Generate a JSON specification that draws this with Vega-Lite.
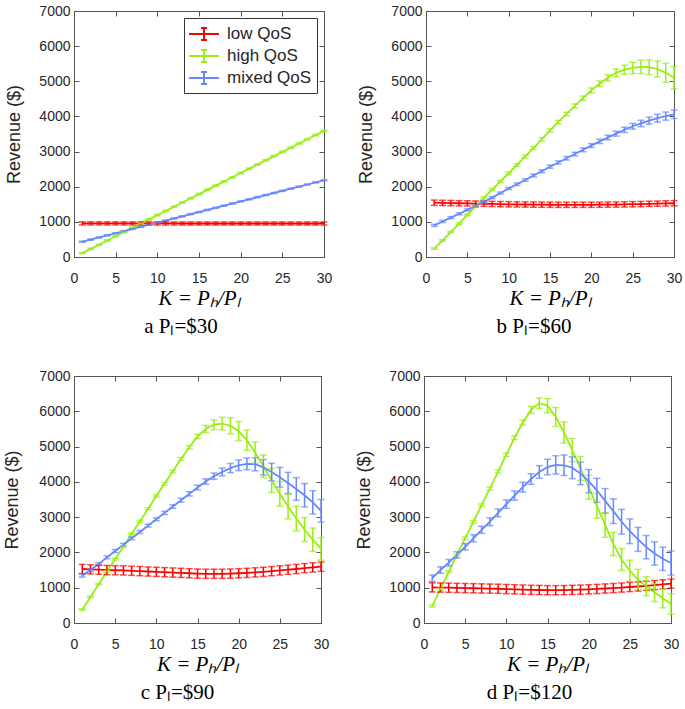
{
"$schema":"https://vega.github.io/schema/vega-lite/v6.json",
"padding":{"left":3,"top":3,"right":4,"bottom":4},
"background":"white",
"config":{
 "view":{"stroke":"#555555","strokeWidth":1},
 "scale":{"continuousPadding":0},
 "axis":{"domain":false,"grid":false,"labelFlush":false,"labelOverlap":false,"tickColor":"#555555","tickSize":-5,"tickWidth":1,"labelFont":"Liberation Sans","labelFontSize":14,"labelColor":"#262626","titleFont":"Liberation Sans","titleFontWeight":"normal","titleColor":"#262626"},
 "title":{"font":"Liberation Serif","fontSize":21,"fontWeight":"normal","color":"#000000"}
},
"datasets":{"rev":[
{"p":"a","s":"low QoS","K":1,"v":958,"e":45},{"p":"a","s":"low QoS","K":2,"v":957,"e":45},{"p":"a","s":"low QoS","K":3,"v":957,"e":45},{"p":"a","s":"low QoS","K":4,"v":956,"e":45},{"p":"a","s":"low QoS","K":5,"v":956,"e":45},{"p":"a","s":"low QoS","K":6,"v":955,"e":45},{"p":"a","s":"low QoS","K":7,"v":955,"e":45},{"p":"a","s":"low QoS","K":8,"v":955,"e":45},{"p":"a","s":"low QoS","K":9,"v":954,"e":45},{"p":"a","s":"low QoS","K":10,"v":954,"e":45},
{"p":"a","s":"low QoS","K":11,"v":954,"e":45},{"p":"a","s":"low QoS","K":12,"v":954,"e":45},{"p":"a","s":"low QoS","K":13,"v":953,"e":45},{"p":"a","s":"low QoS","K":14,"v":953,"e":45},{"p":"a","s":"low QoS","K":15,"v":953,"e":45},{"p":"a","s":"low QoS","K":16,"v":953,"e":45},{"p":"a","s":"low QoS","K":17,"v":953,"e":45},{"p":"a","s":"low QoS","K":18,"v":953,"e":45},{"p":"a","s":"low QoS","K":19,"v":953,"e":45},{"p":"a","s":"low QoS","K":20,"v":953,"e":45},
{"p":"a","s":"low QoS","K":21,"v":953,"e":45},{"p":"a","s":"low QoS","K":22,"v":953,"e":45},{"p":"a","s":"low QoS","K":23,"v":953,"e":45},{"p":"a","s":"low QoS","K":24,"v":953,"e":45},{"p":"a","s":"low QoS","K":25,"v":953,"e":45},{"p":"a","s":"low QoS","K":26,"v":953,"e":45},{"p":"a","s":"low QoS","K":27,"v":953,"e":45},{"p":"a","s":"low QoS","K":28,"v":953,"e":45},{"p":"a","s":"low QoS","K":29,"v":953,"e":45},{"p":"a","s":"low QoS","K":30,"v":953,"e":45},
{"p":"a","s":"high QoS","K":1,"v":110,"e":20},{"p":"a","s":"high QoS","K":2,"v":230,"e":20},{"p":"a","s":"high QoS","K":3,"v":350,"e":20},{"p":"a","s":"high QoS","K":4,"v":470,"e":20},{"p":"a","s":"high QoS","K":5,"v":590,"e":20},{"p":"a","s":"high QoS","K":6,"v":710,"e":20},{"p":"a","s":"high QoS","K":7,"v":830,"e":20},{"p":"a","s":"high QoS","K":8,"v":950,"e":20},{"p":"a","s":"high QoS","K":9,"v":1070,"e":20},{"p":"a","s":"high QoS","K":10,"v":1190,"e":20},
{"p":"a","s":"high QoS","K":11,"v":1310,"e":20},{"p":"a","s":"high QoS","K":12,"v":1430,"e":20},{"p":"a","s":"high QoS","K":13,"v":1550,"e":20},{"p":"a","s":"high QoS","K":14,"v":1670,"e":20},{"p":"a","s":"high QoS","K":15,"v":1790,"e":20},{"p":"a","s":"high QoS","K":16,"v":1910,"e":20},{"p":"a","s":"high QoS","K":17,"v":2030,"e":20},{"p":"a","s":"high QoS","K":18,"v":2150,"e":20},{"p":"a","s":"high QoS","K":19,"v":2270,"e":20},{"p":"a","s":"high QoS","K":20,"v":2390,"e":20},
{"p":"a","s":"high QoS","K":21,"v":2510,"e":20},{"p":"a","s":"high QoS","K":22,"v":2630,"e":20},{"p":"a","s":"high QoS","K":23,"v":2750,"e":20},{"p":"a","s":"high QoS","K":24,"v":2870,"e":20},{"p":"a","s":"high QoS","K":25,"v":2990,"e":20},{"p":"a","s":"high QoS","K":26,"v":3110,"e":20},{"p":"a","s":"high QoS","K":27,"v":3230,"e":20},{"p":"a","s":"high QoS","K":28,"v":3350,"e":20},{"p":"a","s":"high QoS","K":29,"v":3470,"e":20},{"p":"a","s":"high QoS","K":30,"v":3590,"e":20},
{"p":"a","s":"mixed QoS","K":1,"v":435,"e":15},{"p":"a","s":"mixed QoS","K":2,"v":495,"e":15},{"p":"a","s":"mixed QoS","K":3,"v":556,"e":15},{"p":"a","s":"mixed QoS","K":4,"v":616,"e":15},{"p":"a","s":"mixed QoS","K":5,"v":676,"e":15},{"p":"a","s":"mixed QoS","K":6,"v":737,"e":15},{"p":"a","s":"mixed QoS","K":7,"v":797,"e":15},{"p":"a","s":"mixed QoS","K":8,"v":857,"e":15},{"p":"a","s":"mixed QoS","K":9,"v":918,"e":15},{"p":"a","s":"mixed QoS","K":10,"v":978,"e":15},
{"p":"a","s":"mixed QoS","K":11,"v":1038,"e":15},{"p":"a","s":"mixed QoS","K":12,"v":1098,"e":15},{"p":"a","s":"mixed QoS","K":13,"v":1159,"e":15},{"p":"a","s":"mixed QoS","K":14,"v":1219,"e":15},{"p":"a","s":"mixed QoS","K":15,"v":1279,"e":15},{"p":"a","s":"mixed QoS","K":16,"v":1340,"e":15},{"p":"a","s":"mixed QoS","K":17,"v":1400,"e":15},{"p":"a","s":"mixed QoS","K":18,"v":1460,"e":15},{"p":"a","s":"mixed QoS","K":19,"v":1521,"e":15},{"p":"a","s":"mixed QoS","K":20,"v":1581,"e":15},
{"p":"a","s":"mixed QoS","K":21,"v":1641,"e":15},{"p":"a","s":"mixed QoS","K":22,"v":1702,"e":15},{"p":"a","s":"mixed QoS","K":23,"v":1762,"e":15},{"p":"a","s":"mixed QoS","K":24,"v":1822,"e":15},{"p":"a","s":"mixed QoS","K":25,"v":1883,"e":15},{"p":"a","s":"mixed QoS","K":26,"v":1943,"e":15},{"p":"a","s":"mixed QoS","K":27,"v":2003,"e":15},{"p":"a","s":"mixed QoS","K":28,"v":2063,"e":15},{"p":"a","s":"mixed QoS","K":29,"v":2124,"e":15},{"p":"a","s":"mixed QoS","K":30,"v":2184,"e":15},
{"p":"b","s":"low QoS","K":1,"v":1545,"e":75},{"p":"b","s":"low QoS","K":2,"v":1540,"e":75},{"p":"b","s":"low QoS","K":3,"v":1535,"e":75},{"p":"b","s":"low QoS","K":4,"v":1530,"e":75},{"p":"b","s":"low QoS","K":5,"v":1525,"e":75},{"p":"b","s":"low QoS","K":6,"v":1520,"e":75},{"p":"b","s":"low QoS","K":7,"v":1515,"e":75},{"p":"b","s":"low QoS","K":8,"v":1510,"e":75},{"p":"b","s":"low QoS","K":9,"v":1505,"e":75},{"p":"b","s":"low QoS","K":10,"v":1500,"e":75},
{"p":"b","s":"low QoS","K":11,"v":1497,"e":75},{"p":"b","s":"low QoS","K":12,"v":1494,"e":75},{"p":"b","s":"low QoS","K":13,"v":1491,"e":75},{"p":"b","s":"low QoS","K":14,"v":1489,"e":75},{"p":"b","s":"low QoS","K":15,"v":1487,"e":75},{"p":"b","s":"low QoS","K":16,"v":1486,"e":75},{"p":"b","s":"low QoS","K":17,"v":1485,"e":75},{"p":"b","s":"low QoS","K":18,"v":1485,"e":75},{"p":"b","s":"low QoS","K":19,"v":1485,"e":75},{"p":"b","s":"low QoS","K":20,"v":1486,"e":75},
{"p":"b","s":"low QoS","K":21,"v":1488,"e":75},{"p":"b","s":"low QoS","K":22,"v":1490,"e":75},{"p":"b","s":"low QoS","K":23,"v":1493,"e":75},{"p":"b","s":"low QoS","K":24,"v":1497,"e":75},{"p":"b","s":"low QoS","K":25,"v":1502,"e":75},{"p":"b","s":"low QoS","K":26,"v":1507,"e":75},{"p":"b","s":"low QoS","K":27,"v":1513,"e":75},{"p":"b","s":"low QoS","K":28,"v":1519,"e":75},{"p":"b","s":"low QoS","K":29,"v":1525,"e":75},{"p":"b","s":"low QoS","K":30,"v":1530,"e":75},
{"p":"b","s":"high QoS","K":1,"v":240,"e":20},{"p":"b","s":"high QoS","K":2,"v":470,"e":20},{"p":"b","s":"high QoS","K":3,"v":710,"e":20},{"p":"b","s":"high QoS","K":4,"v":950,"e":25},{"p":"b","s":"high QoS","K":5,"v":1200,"e":25},{"p":"b","s":"high QoS","K":6,"v":1440,"e":25},{"p":"b","s":"high QoS","K":7,"v":1680,"e":30},{"p":"b","s":"high QoS","K":8,"v":1920,"e":30},{"p":"b","s":"high QoS","K":9,"v":2150,"e":30},{"p":"b","s":"high QoS","K":10,"v":2380,"e":35},
{"p":"b","s":"high QoS","K":11,"v":2620,"e":35},{"p":"b","s":"high QoS","K":12,"v":2860,"e":40},{"p":"b","s":"high QoS","K":13,"v":3100,"e":40},{"p":"b","s":"high QoS","K":14,"v":3350,"e":45},{"p":"b","s":"high QoS","K":15,"v":3600,"e":45},{"p":"b","s":"high QoS","K":16,"v":3840,"e":50},{"p":"b","s":"high QoS","K":17,"v":4070,"e":50},{"p":"b","s":"high QoS","K":18,"v":4300,"e":55},{"p":"b","s":"high QoS","K":19,"v":4520,"e":60},{"p":"b","s":"high QoS","K":20,"v":4740,"e":70},
{"p":"b","s":"high QoS","K":21,"v":4930,"e":80},{"p":"b","s":"high QoS","K":22,"v":5100,"e":90},{"p":"b","s":"high QoS","K":23,"v":5240,"e":110},{"p":"b","s":"high QoS","K":24,"v":5330,"e":130},{"p":"b","s":"high QoS","K":25,"v":5380,"e":160},{"p":"b","s":"high QoS","K":26,"v":5410,"e":190},{"p":"b","s":"high QoS","K":27,"v":5400,"e":210},{"p":"b","s":"high QoS","K":28,"v":5350,"e":230},{"p":"b","s":"high QoS","K":29,"v":5240,"e":270},{"p":"b","s":"high QoS","K":30,"v":5100,"e":320},
{"p":"b","s":"mixed QoS","K":1,"v":900,"e":30},{"p":"b","s":"mixed QoS","K":2,"v":1010,"e":30},{"p":"b","s":"mixed QoS","K":3,"v":1120,"e":30},{"p":"b","s":"mixed QoS","K":4,"v":1230,"e":30},{"p":"b","s":"mixed QoS","K":5,"v":1340,"e":30},{"p":"b","s":"mixed QoS","K":6,"v":1450,"e":30},{"p":"b","s":"mixed QoS","K":7,"v":1570,"e":30},{"p":"b","s":"mixed QoS","K":8,"v":1690,"e":30},{"p":"b","s":"mixed QoS","K":9,"v":1820,"e":30},{"p":"b","s":"mixed QoS","K":10,"v":1950,"e":30},
{"p":"b","s":"mixed QoS","K":11,"v":2070,"e":35},{"p":"b","s":"mixed QoS","K":12,"v":2190,"e":35},{"p":"b","s":"mixed QoS","K":13,"v":2320,"e":40},{"p":"b","s":"mixed QoS","K":14,"v":2440,"e":40},{"p":"b","s":"mixed QoS","K":15,"v":2570,"e":45},{"p":"b","s":"mixed QoS","K":16,"v":2690,"e":45},{"p":"b","s":"mixed QoS","K":17,"v":2810,"e":50},{"p":"b","s":"mixed QoS","K":18,"v":2930,"e":50},{"p":"b","s":"mixed QoS","K":19,"v":3050,"e":55},{"p":"b","s":"mixed QoS","K":20,"v":3170,"e":55},
{"p":"b","s":"mixed QoS","K":21,"v":3290,"e":60},{"p":"b","s":"mixed QoS","K":22,"v":3400,"e":65},{"p":"b","s":"mixed QoS","K":23,"v":3510,"e":70},{"p":"b","s":"mixed QoS","K":24,"v":3620,"e":75},{"p":"b","s":"mixed QoS","K":25,"v":3720,"e":80},{"p":"b","s":"mixed QoS","K":26,"v":3800,"e":90},{"p":"b","s":"mixed QoS","K":27,"v":3880,"e":100},{"p":"b","s":"mixed QoS","K":28,"v":3950,"e":110},{"p":"b","s":"mixed QoS","K":29,"v":4010,"e":115},{"p":"b","s":"mixed QoS","K":30,"v":4060,"e":120},
{"p":"c","s":"low QoS","K":1,"v":1530,"e":130},{"p":"c","s":"low QoS","K":2,"v":1520,"e":130},{"p":"c","s":"low QoS","K":3,"v":1510,"e":130},{"p":"c","s":"low QoS","K":4,"v":1500,"e":130},{"p":"c","s":"low QoS","K":5,"v":1495,"e":130},{"p":"c","s":"low QoS","K":6,"v":1490,"e":130},{"p":"c","s":"low QoS","K":7,"v":1480,"e":130},{"p":"c","s":"low QoS","K":8,"v":1470,"e":130},{"p":"c","s":"low QoS","K":9,"v":1460,"e":130},{"p":"c","s":"low QoS","K":10,"v":1450,"e":130},
{"p":"c","s":"low QoS","K":11,"v":1440,"e":130},{"p":"c","s":"low QoS","K":12,"v":1430,"e":130},{"p":"c","s":"low QoS","K":13,"v":1420,"e":130},{"p":"c","s":"low QoS","K":14,"v":1410,"e":130},{"p":"c","s":"low QoS","K":15,"v":1400,"e":130},{"p":"c","s":"low QoS","K":16,"v":1395,"e":130},{"p":"c","s":"low QoS","K":17,"v":1395,"e":130},{"p":"c","s":"low QoS","K":18,"v":1395,"e":130},{"p":"c","s":"low QoS","K":19,"v":1400,"e":130},{"p":"c","s":"low QoS","K":20,"v":1410,"e":130},
{"p":"c","s":"low QoS","K":21,"v":1420,"e":130},{"p":"c","s":"low QoS","K":22,"v":1435,"e":130},{"p":"c","s":"low QoS","K":23,"v":1450,"e":130},{"p":"c","s":"low QoS","K":24,"v":1470,"e":130},{"p":"c","s":"low QoS","K":25,"v":1490,"e":130},{"p":"c","s":"low QoS","K":26,"v":1510,"e":130},{"p":"c","s":"low QoS","K":27,"v":1530,"e":130},{"p":"c","s":"low QoS","K":28,"v":1555,"e":130},{"p":"c","s":"low QoS","K":29,"v":1575,"e":130},{"p":"c","s":"low QoS","K":30,"v":1595,"e":130},
{"p":"c","s":"high QoS","K":1,"v":380,"e":20},{"p":"c","s":"high QoS","K":2,"v":740,"e":20},{"p":"c","s":"high QoS","K":3,"v":1100,"e":20},{"p":"c","s":"high QoS","K":4,"v":1460,"e":20},{"p":"c","s":"high QoS","K":5,"v":1810,"e":25},{"p":"c","s":"high QoS","K":6,"v":2170,"e":25},{"p":"c","s":"high QoS","K":7,"v":2530,"e":25},{"p":"c","s":"high QoS","K":8,"v":2880,"e":30},{"p":"c","s":"high QoS","K":9,"v":3240,"e":30},{"p":"c","s":"high QoS","K":10,"v":3600,"e":30},
{"p":"c","s":"high QoS","K":11,"v":3950,"e":35},{"p":"c","s":"high QoS","K":12,"v":4300,"e":35},{"p":"c","s":"high QoS","K":13,"v":4650,"e":40},{"p":"c","s":"high QoS","K":14,"v":4980,"e":45},{"p":"c","s":"high QoS","K":15,"v":5290,"e":60},{"p":"c","s":"high QoS","K":16,"v":5500,"e":100},{"p":"c","s":"high QoS","K":17,"v":5620,"e":140},{"p":"c","s":"high QoS","K":18,"v":5650,"e":180},{"p":"c","s":"high QoS","K":19,"v":5590,"e":230},{"p":"c","s":"high QoS","K":20,"v":5440,"e":270},
{"p":"c","s":"high QoS","K":21,"v":5180,"e":290},{"p":"c","s":"high QoS","K":22,"v":4830,"e":300},{"p":"c","s":"high QoS","K":23,"v":4440,"e":320},{"p":"c","s":"high QoS","K":24,"v":4040,"e":340},{"p":"c","s":"high QoS","K":25,"v":3660,"e":350},{"p":"c","s":"high QoS","K":26,"v":3300,"e":350},{"p":"c","s":"high QoS","K":27,"v":2960,"e":350},{"p":"c","s":"high QoS","K":28,"v":2650,"e":340},{"p":"c","s":"high QoS","K":29,"v":2360,"e":330},{"p":"c","s":"high QoS","K":30,"v":2100,"e":320},
{"p":"c","s":"mixed QoS","K":1,"v":1340,"e":40},{"p":"c","s":"mixed QoS","K":2,"v":1500,"e":40},{"p":"c","s":"mixed QoS","K":3,"v":1670,"e":40},{"p":"c","s":"mixed QoS","K":4,"v":1860,"e":40},{"p":"c","s":"mixed QoS","K":5,"v":2040,"e":40},{"p":"c","s":"mixed QoS","K":6,"v":2220,"e":40},{"p":"c","s":"mixed QoS","K":7,"v":2400,"e":40},{"p":"c","s":"mixed QoS","K":8,"v":2580,"e":40},{"p":"c","s":"mixed QoS","K":9,"v":2760,"e":40},{"p":"c","s":"mixed QoS","K":10,"v":2940,"e":40},
{"p":"c","s":"mixed QoS","K":11,"v":3120,"e":45},{"p":"c","s":"mixed QoS","K":12,"v":3300,"e":50},{"p":"c","s":"mixed QoS","K":13,"v":3480,"e":55},{"p":"c","s":"mixed QoS","K":14,"v":3660,"e":60},{"p":"c","s":"mixed QoS","K":15,"v":3840,"e":65},{"p":"c","s":"mixed QoS","K":16,"v":4010,"e":75},{"p":"c","s":"mixed QoS","K":17,"v":4160,"e":90},{"p":"c","s":"mixed QoS","K":18,"v":4280,"e":110},{"p":"c","s":"mixed QoS","K":19,"v":4390,"e":130},{"p":"c","s":"mixed QoS","K":20,"v":4470,"e":150},
{"p":"c","s":"mixed QoS","K":21,"v":4510,"e":165},{"p":"c","s":"mixed QoS","K":22,"v":4500,"e":185},{"p":"c","s":"mixed QoS","K":23,"v":4410,"e":220},{"p":"c","s":"mixed QoS","K":24,"v":4280,"e":250},{"p":"c","s":"mixed QoS","K":25,"v":4130,"e":280},{"p":"c","s":"mixed QoS","K":26,"v":3970,"e":300},{"p":"c","s":"mixed QoS","K":27,"v":3800,"e":320},{"p":"c","s":"mixed QoS","K":28,"v":3620,"e":330},{"p":"c","s":"mixed QoS","K":29,"v":3420,"e":330},{"p":"c","s":"mixed QoS","K":30,"v":3180,"e":320},
{"p":"d","s":"low QoS","K":1,"v":1010,"e":130},{"p":"d","s":"low QoS","K":2,"v":1005,"e":130},{"p":"d","s":"low QoS","K":3,"v":1000,"e":130},{"p":"d","s":"low QoS","K":4,"v":995,"e":130},{"p":"d","s":"low QoS","K":5,"v":990,"e":130},{"p":"d","s":"low QoS","K":6,"v":985,"e":130},{"p":"d","s":"low QoS","K":7,"v":980,"e":130},{"p":"d","s":"low QoS","K":8,"v":975,"e":130},{"p":"d","s":"low QoS","K":9,"v":970,"e":130},{"p":"d","s":"low QoS","K":10,"v":962,"e":130},
{"p":"d","s":"low QoS","K":11,"v":955,"e":130},{"p":"d","s":"low QoS","K":12,"v":948,"e":130},{"p":"d","s":"low QoS","K":13,"v":940,"e":130},{"p":"d","s":"low QoS","K":14,"v":935,"e":130},{"p":"d","s":"low QoS","K":15,"v":930,"e":130},{"p":"d","s":"low QoS","K":16,"v":930,"e":130},{"p":"d","s":"low QoS","K":17,"v":932,"e":130},{"p":"d","s":"low QoS","K":18,"v":938,"e":130},{"p":"d","s":"low QoS","K":19,"v":945,"e":130},{"p":"d","s":"low QoS","K":20,"v":955,"e":130},
{"p":"d","s":"low QoS","K":21,"v":965,"e":130},{"p":"d","s":"low QoS","K":22,"v":978,"e":130},{"p":"d","s":"low QoS","K":23,"v":990,"e":130},{"p":"d","s":"low QoS","K":24,"v":1005,"e":130},{"p":"d","s":"low QoS","K":25,"v":1020,"e":130},{"p":"d","s":"low QoS","K":26,"v":1035,"e":130},{"p":"d","s":"low QoS","K":27,"v":1055,"e":130},{"p":"d","s":"low QoS","K":28,"v":1075,"e":130},{"p":"d","s":"low QoS","K":29,"v":1095,"e":130},{"p":"d","s":"low QoS","K":30,"v":1115,"e":130},
{"p":"d","s":"high QoS","K":1,"v":480,"e":30},{"p":"d","s":"high QoS","K":2,"v":960,"e":30},{"p":"d","s":"high QoS","K":3,"v":1450,"e":30},{"p":"d","s":"high QoS","K":4,"v":1930,"e":30},{"p":"d","s":"high QoS","K":5,"v":2400,"e":35},{"p":"d","s":"high QoS","K":6,"v":2870,"e":35},{"p":"d","s":"high QoS","K":7,"v":3340,"e":35},{"p":"d","s":"high QoS","K":8,"v":3810,"e":40},{"p":"d","s":"high QoS","K":9,"v":4290,"e":40},{"p":"d","s":"high QoS","K":10,"v":4770,"e":45},
{"p":"d","s":"high QoS","K":11,"v":5250,"e":50},{"p":"d","s":"high QoS","K":12,"v":5680,"e":70},{"p":"d","s":"high QoS","K":13,"v":6040,"e":100},{"p":"d","s":"high QoS","K":14,"v":6230,"e":150},{"p":"d","s":"high QoS","K":15,"v":6160,"e":200},{"p":"d","s":"high QoS","K":16,"v":5840,"e":270},{"p":"d","s":"high QoS","K":17,"v":5400,"e":300},{"p":"d","s":"high QoS","K":18,"v":4900,"e":330},{"p":"d","s":"high QoS","K":19,"v":4380,"e":340},{"p":"d","s":"high QoS","K":20,"v":3850,"e":340},
{"p":"d","s":"high QoS","K":21,"v":3320,"e":350},{"p":"d","s":"high QoS","K":22,"v":2780,"e":350},{"p":"d","s":"high QoS","K":23,"v":2240,"e":330},{"p":"d","s":"high QoS","K":24,"v":1800,"e":310},{"p":"d","s":"high QoS","K":25,"v":1480,"e":300},{"p":"d","s":"high QoS","K":26,"v":1230,"e":290},{"p":"d","s":"high QoS","K":27,"v":1040,"e":270},{"p":"d","s":"high QoS","K":28,"v":870,"e":260},{"p":"d","s":"high QoS","K":29,"v":700,"e":270},{"p":"d","s":"high QoS","K":30,"v":540,"e":290},
{"p":"d","s":"mixed QoS","K":1,"v":1270,"e":90},{"p":"d","s":"mixed QoS","K":2,"v":1500,"e":90},{"p":"d","s":"mixed QoS","K":3,"v":1710,"e":90},{"p":"d","s":"mixed QoS","K":4,"v":1930,"e":90},{"p":"d","s":"mixed QoS","K":5,"v":2160,"e":90},{"p":"d","s":"mixed QoS","K":6,"v":2400,"e":100},{"p":"d","s":"mixed QoS","K":7,"v":2640,"e":100},{"p":"d","s":"mixed QoS","K":8,"v":2870,"e":110},{"p":"d","s":"mixed QoS","K":9,"v":3120,"e":110},{"p":"d","s":"mixed QoS","K":10,"v":3370,"e":120},
{"p":"d","s":"mixed QoS","K":11,"v":3610,"e":130},{"p":"d","s":"mixed QoS","K":12,"v":3850,"e":140},{"p":"d","s":"mixed QoS","K":13,"v":4080,"e":150},{"p":"d","s":"mixed QoS","K":14,"v":4280,"e":180},{"p":"d","s":"mixed QoS","K":15,"v":4420,"e":220},{"p":"d","s":"mixed QoS","K":16,"v":4480,"e":260},{"p":"d","s":"mixed QoS","K":17,"v":4470,"e":290},{"p":"d","s":"mixed QoS","K":18,"v":4400,"e":310},{"p":"d","s":"mixed QoS","K":19,"v":4240,"e":320},{"p":"d","s":"mixed QoS","K":20,"v":4020,"e":330},
{"p":"d","s":"mixed QoS","K":21,"v":3760,"e":340},{"p":"d","s":"mixed QoS","K":22,"v":3460,"e":350},{"p":"d","s":"mixed QoS","K":23,"v":3170,"e":350},{"p":"d","s":"mixed QoS","K":24,"v":2870,"e":350},{"p":"d","s":"mixed QoS","K":25,"v":2600,"e":350},{"p":"d","s":"mixed QoS","K":26,"v":2370,"e":340},{"p":"d","s":"mixed QoS","K":27,"v":2150,"e":330},{"p":"d","s":"mixed QoS","K":28,"v":1970,"e":330},{"p":"d","s":"mixed QoS","K":29,"v":1820,"e":330},{"p":"d","s":"mixed QoS","K":30,"v":1700,"e":340}
]},
"data":{"name":"rev"},
"spacing":30,
"resolve":{"legend":{"color":"independent"}},
"vconcat":[
{"hconcat":[
{"width":250,"height":246,
 "title":{"text":"a  Pₗ=$30","orient":"bottom","anchor":"middle","frame":"group","dx":-18,"offset":8},
 "transform":[{"filter":"datum.p==='a'"}],
 "layer":[
  {"mark":{"type":"line","strokeWidth":1.8},
   "encoding":{
    "x":{"field":"K","type":"quantitative","scale":{"domain":[0,30],"nice":false,"padding":0},"axis":{"values":[0,5,10,15,20,25,30],"format":"d","title":"K = Pₕ/Pₗ","titleFont":"Liberation Serif","titleFontStyle":"italic","titleFontSize":21,"titleColor":"#000000","labelPadding":19,"titlePadding":2}},
    "y":{"field":"v","type":"quantitative","scale":{"domain":[0,7000],"nice":false,"padding":0},"axis":{"values":[0,1000,2000,3000,4000,5000,6000,7000],"format":"d","title":"Revenue ($)","titleFontSize":18,"labelPadding":9,"titlePadding":15}},
    "color":{"field":"s","type":"nominal","scale":{"domain":["low QoS","high QoS","mixed QoS"],"range":["#ff0000","#99ee11","#6688ff"]},
      "legend":{"title":null,"orient":"top-right","offset":7,"padding":5,"strokeColor":"#333333","fillColor":"white","labelFont":"Liberation Sans","labelFontSize":17,"labelColor":"#262626","symbolType":"M-1.5,0H1.5M0,-0.6V0.6M-0.3,-0.6H0.3M-0.3,0.6H0.3","symbolSize":400,"symbolStrokeWidth":2,"symbolOffset":4,"labelOffset":12,"rowPadding":1}}
   }},
  {"mark":{"type":"errorbar","ticks":{"size":7,"thickness":1.5},"thickness":1.5},
   "encoding":{
    "x":{"field":"K","type":"quantitative","axis":null},
    "y":{"field":"v","type":"quantitative","axis":null},
    "yError":{"field":"e"},
    "color":{"field":"s","type":"nominal","legend":null}
   }},
  {"mark":{"type":"point","opacity":0},
   "encoding":{
    "x":{"field":"K","type":"quantitative","axis":{"orient":"top","values":[0,5,10,15,20,25,30],"labels":false,"title":null}},
    "y":{"field":"v","type":"quantitative","axis":{"orient":"right","values":[0,1000,2000,3000,4000,5000,6000,7000],"labels":false,"title":null}}
   }}
 ],
 "resolve":{"axis":{"x":"independent","y":"independent"}}
},
{"width":248,"height":246,
 "title":{"text":"b  Pₗ=$60","orient":"bottom","anchor":"middle","frame":"group","dx":-16,"offset":8},
 "transform":[{"filter":"datum.p==='b'"}],
 "layer":[
  {"mark":{"type":"line","strokeWidth":1.8},
   "encoding":{
    "x":{"field":"K","type":"quantitative","scale":{"domain":[0,30],"nice":false,"padding":0},"axis":{"values":[0,5,10,15,20,25,30],"format":"d","title":"K = Pₕ/Pₗ","titleFont":"Liberation Serif","titleFontStyle":"italic","titleFontSize":21,"titleColor":"#000000","labelPadding":19,"titlePadding":2}},
    "y":{"field":"v","type":"quantitative","scale":{"domain":[0,7000],"nice":false,"padding":0},"axis":{"values":[0,1000,2000,3000,4000,5000,6000,7000],"format":"d","title":"Revenue ($)","titleFontSize":18,"labelPadding":9,"titlePadding":15}},
    "color":{"field":"s","type":"nominal","scale":{"domain":["low QoS","high QoS","mixed QoS"],"range":["#ff0000","#99ee11","#6688ff"]},"legend":null}
   }},
  {"mark":{"type":"errorbar","ticks":{"size":7,"thickness":1.5},"thickness":1.5},
   "encoding":{
    "x":{"field":"K","type":"quantitative","axis":null},
    "y":{"field":"v","type":"quantitative","axis":null},
    "yError":{"field":"e"},
    "color":{"field":"s","type":"nominal","legend":null}
   }},
  {"mark":{"type":"point","opacity":0},
   "encoding":{
    "x":{"field":"K","type":"quantitative","axis":{"orient":"top","values":[0,5,10,15,20,25,30],"labels":false,"title":null}},
    "y":{"field":"v","type":"quantitative","axis":{"orient":"right","values":[0,1000,2000,3000,4000,5000,6000,7000],"labels":false,"title":null}}
   }}
 ],
 "resolve":{"axis":{"x":"independent","y":"independent"}}
}
],"spacing":24,"resolve":{"legend":{"color":"independent"}}},
{"hconcat":[
{"width":247,"height":247,
 "title":{"text":"c  Pₗ=$90","orient":"bottom","anchor":"middle","frame":"group","dx":-20,"offset":8},
 "transform":[{"filter":"datum.p==='c'"}],
 "layer":[
  {"mark":{"type":"line","strokeWidth":1.8},
   "encoding":{
    "x":{"field":"K","type":"quantitative","scale":{"domain":[0,30],"nice":false,"padding":0},"axis":{"values":[0,5,10,15,20,25,30],"format":"d","title":"K = Pₕ/Pₗ","titleFont":"Liberation Serif","titleFontStyle":"italic","titleFontSize":21,"titleColor":"#000000","labelPadding":19,"titlePadding":2}},
    "y":{"field":"v","type":"quantitative","scale":{"domain":[0,7000],"nice":false,"padding":0},"axis":{"values":[0,1000,2000,3000,4000,5000,6000,7000],"format":"d","title":"Revenue ($)","titleFontSize":18,"labelPadding":9,"titlePadding":17}},
    "color":{"field":"s","type":"nominal","scale":{"domain":["low QoS","high QoS","mixed QoS"],"range":["#ff0000","#99ee11","#6688ff"]},"legend":null}
   }},
  {"mark":{"type":"errorbar","ticks":{"size":7,"thickness":1.5},"thickness":1.5},
   "encoding":{
    "x":{"field":"K","type":"quantitative","axis":null},
    "y":{"field":"v","type":"quantitative","axis":null},
    "yError":{"field":"e"},
    "color":{"field":"s","type":"nominal","legend":null}
   }},
  {"mark":{"type":"point","opacity":0},
   "encoding":{
    "x":{"field":"K","type":"quantitative","axis":{"orient":"top","values":[0,5,10,15,20,25,30],"labels":false,"title":null}},
    "y":{"field":"v","type":"quantitative","axis":{"orient":"right","values":[0,1000,2000,3000,4000,5000,6000,7000],"labels":false,"title":null}}
   }}
 ],
 "resolve":{"axis":{"x":"independent","y":"independent"}}
},
{"width":247,"height":247,
 "title":{"text":"d  Pₗ=$120","orient":"bottom","anchor":"middle","frame":"group","dx":-18,"offset":8},
 "transform":[{"filter":"datum.p==='d'"}],
 "layer":[
  {"mark":{"type":"line","strokeWidth":1.8},
   "encoding":{
    "x":{"field":"K","type":"quantitative","scale":{"domain":[0,30],"nice":false,"padding":0},"axis":{"values":[0,5,10,15,20,25,30],"format":"d","title":"K = Pₕ/Pₗ","titleFont":"Liberation Serif","titleFontStyle":"italic","titleFontSize":21,"titleColor":"#000000","labelPadding":19,"titlePadding":2}},
    "y":{"field":"v","type":"quantitative","scale":{"domain":[0,7000],"nice":false,"padding":0},"axis":{"values":[0,1000,2000,3000,4000,5000,6000,7000],"format":"d","title":"Revenue ($)","titleFontSize":18,"labelPadding":9,"titlePadding":15}},
    "color":{"field":"s","type":"nominal","scale":{"domain":["low QoS","high QoS","mixed QoS"],"range":["#ff0000","#99ee11","#6688ff"]},"legend":null}
   }},
  {"mark":{"type":"errorbar","ticks":{"size":7,"thickness":1.5},"thickness":1.5},
   "encoding":{
    "x":{"field":"K","type":"quantitative","axis":null},
    "y":{"field":"v","type":"quantitative","axis":null},
    "yError":{"field":"e"},
    "color":{"field":"s","type":"nominal","legend":null}
   }},
  {"mark":{"type":"point","opacity":0},
   "encoding":{
    "x":{"field":"K","type":"quantitative","axis":{"orient":"top","values":[0,5,10,15,20,25,30],"labels":false,"title":null}},
    "y":{"field":"v","type":"quantitative","axis":{"orient":"right","values":[0,1000,2000,3000,4000,5000,6000,7000],"labels":false,"title":null}}
   }}
 ],
 "resolve":{"axis":{"x":"independent","y":"independent"}}
}
],"spacing":25,"resolve":{"legend":{"color":"independent"}}}
]
}
